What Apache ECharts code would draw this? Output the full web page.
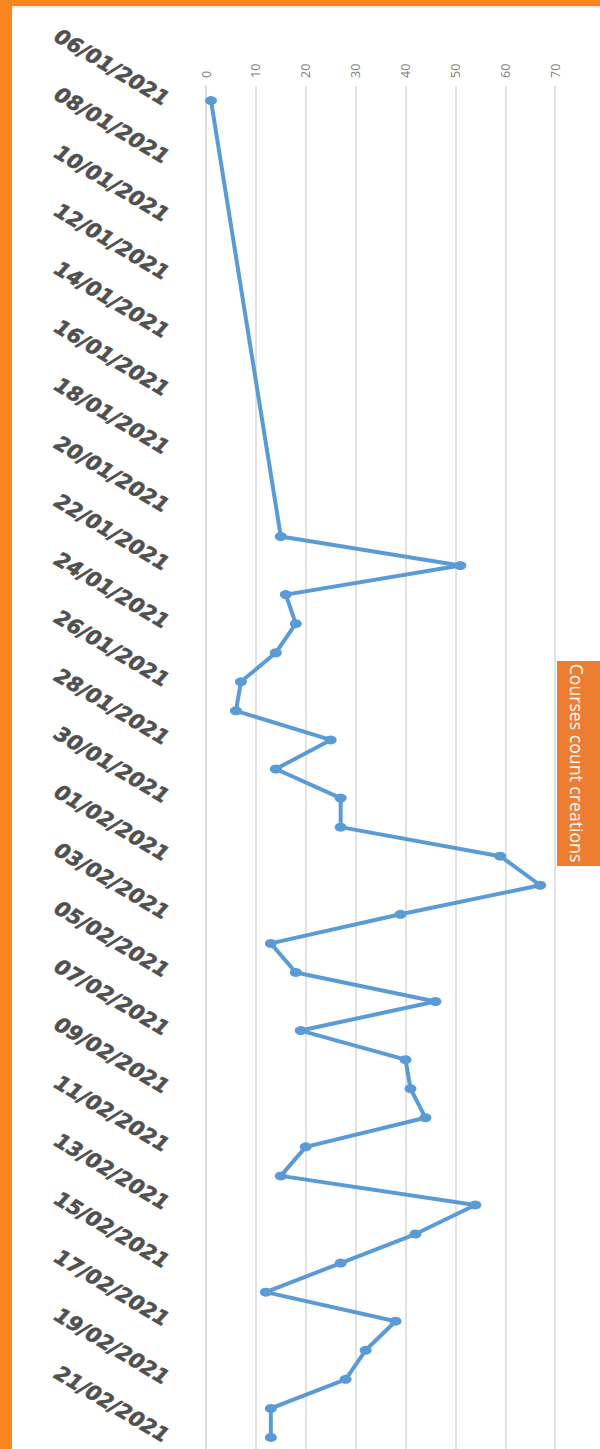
<!DOCTYPE html>
<html>
<head>
<meta charset="utf-8">
<script src="https://cdn.jsdelivr.net/npm/echarts@6/dist/echarts.min.js"></script>
<style>
  html, body { margin: 0; padding: 0; background: #ffffff; }
  #main { width: 600px; height: 1449px; }
</style>
</head>
<body>
<div id="main"></div>
<script>
// one category per day, the chart only has a value on 06/01 and from 21/01 on
const dates = [
  '06/01/2021', '07/01/2021', '08/01/2021', '09/01/2021', '10/01/2021', '11/01/2021',
  '12/01/2021', '13/01/2021', '14/01/2021', '15/01/2021', '16/01/2021', '17/01/2021',
  '18/01/2021', '19/01/2021', '20/01/2021', '21/01/2021', '22/01/2021', '23/01/2021',
  '24/01/2021', '25/01/2021', '26/01/2021', '27/01/2021', '28/01/2021', '29/01/2021',
  '30/01/2021', '31/01/2021', '01/02/2021', '02/02/2021', '03/02/2021', '04/02/2021',
  '05/02/2021', '06/02/2021', '07/02/2021', '08/02/2021', '09/02/2021', '10/02/2021',
  '11/02/2021', '12/02/2021', '13/02/2021', '14/02/2021', '15/02/2021', '16/02/2021',
  '17/02/2021', '18/02/2021', '19/02/2021', '20/02/2021', '21/02/2021'
];

const courseCounts = [
  1, null, null, null, null, null, null, null, null, null, null, null, null, null, null,
  15, 51, 16, 18, 14, 7, 6, 25, 14, 27, 27,
  59, 67, 39, 13, 18, 46, 19, 40, 41, 44, 20, 15, 54, 42, 27, 12, 38, 32, 28, 13, 13
];

const chartTitle = 'Courses count creations';

const chartDom = document.getElementById('main');
const myChart = echarts.init(chartDom, null, { renderer: 'svg' });

const option = {
  backgroundColor: '#ffffff',
  animation: false,
  grid: {
    left: 206,
    right: -5,
    top: 86,
    bottom: -3,
    outerBoundsMode: 'none', // the 80 column runs past the right edge, like the picture
  },
  // values run across the page, dates run down it
  xAxis: {
    type: 'value',
    position: 'top',
    min: 0,
    max: 80,
    interval: 10,
    axisLine: { show: false },
    axisTick: { show: false },
    axisLabel: {
      rotate: -90,
      margin: 8,
      color: '#808080',
      fontSize: 12.5,
      fontFamily: 'Open Sans',
    },
    splitLine: {
      lineStyle: { color: '#d9d9d9', width: 1.5 },
    },
  },
  yAxis: {
    type: 'category',
    inverse: true,
    boundaryGap: true,
    data: dates,
    axisLine: {
      lineStyle: { color: '#d9d9d9', width: 1.5 },
    },
    axisTick: {
      interval: 1,
      length: 11,
      lineStyle: { color: '#d9d9d9', width: 1.5 },
    },
    axisLabel: {
      interval: 1,
      rotate: -31,
      margin: 39,
      color: '#505050',
      fontSize: 20.5,
      fontWeight: 'bold',
      fontStyle: 'italic',
      fontFamily: 'DejaVu Sans',
      textBorderColor: '#505050',
      textBorderWidth: 0.6,
    },
    splitLine: { show: false },
  },
  series: [
    {
      name: chartTitle,
      type: 'line',
      data: courseCounts,
      connectNulls: true,
      symbol: 'circle',
      symbolSize: [12, 9],
      lineStyle: { color: '#5b9bd5', width: 4 },
      itemStyle: { color: '#5b9bd5' },
    },
  ],
  graphic: [
    // orange frame on the left and top
    { type: 'rect', shape: { x: 0, y: 0, width: 12, height: 1449 }, style: { fill: '#f7861d' }, z: 100 },
    { type: 'rect', shape: { x: 0, y: 0, width: 600, height: 6 }, style: { fill: '#f7861d' }, z: 100 },
    { type: 'rect', shape: { x: 12, y: 6, width: 588, height: 1.5 }, style: { fill: '#dde3ea' }, z: 100 },
    // title box, turned like the rest of the chart
    { type: 'rect', shape: { x: 557, y: 661, width: 45, height: 205 }, style: { fill: '#ed7d31' }, z: 100 },
    {
      type: 'text',
      x: 578,
      y: 763,
      rotation: -Math.PI / 2,
      scaleX: 0.93,
      z: 101,
      style: {
        text: chartTitle,
        fill: '#ffffff',
        fontSize: 19,
        fontFamily: 'Open Sans',
        align: 'center',
        verticalAlign: 'middle',
      },
    },
  ],
};

myChart.setOption(option);
</script>
</body>
</html>
